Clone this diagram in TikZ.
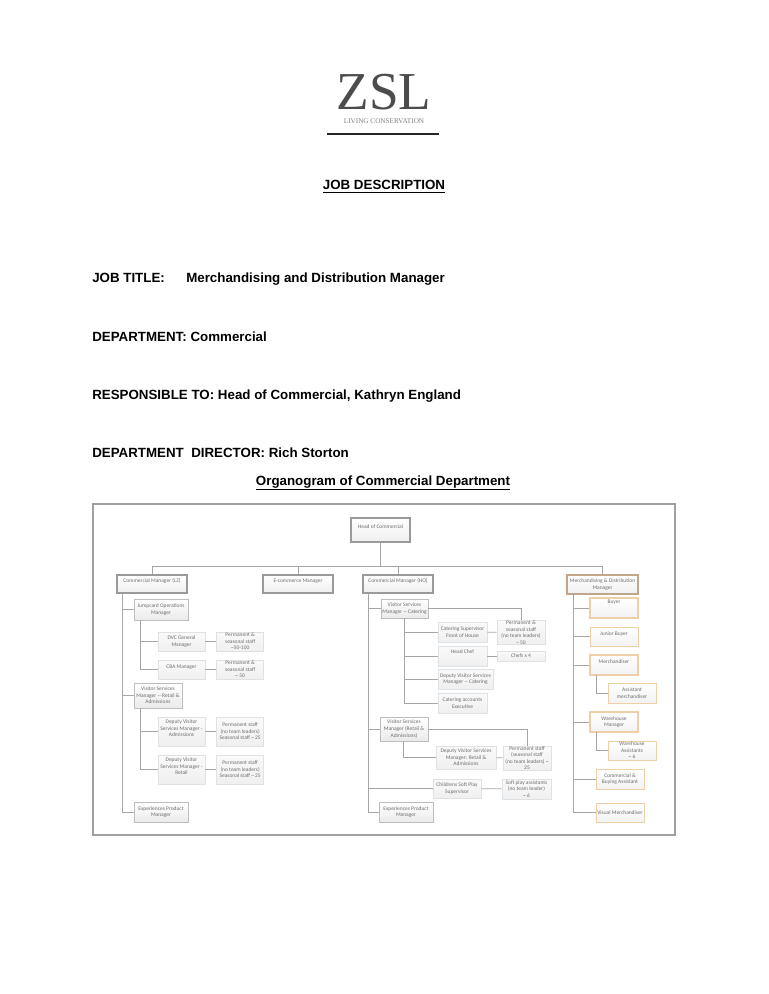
\documentclass[tikz,border=0pt]{standalone}
\usepackage{fontspec}
\setmainfont{Liberation Sans}
\newfontfamily\serifzsl{Liberation Serif}
\newfontfamily\boxfont{Carlito}
\usetikzlibrary{positioning}
\definecolor{inkgrey}{HTML}{6E6E6E}
\definecolor{linegrey}{HTML}{A6A6A6}
\definecolor{frameedge}{HTML}{A0A0A0}
\definecolor{leadedge}{HTML}{9A9A9A}
\definecolor{midedge}{HTML}{BDBDBD}
\definecolor{paleedge}{HTML}{DCE2E6}
\definecolor{merchedge}{HTML}{C2A68C}
\definecolor{orangeedge}{HTML}{EFCFA8}
\tikzset{
    boxsize/.style 2 args={minimum width=#1*0.75pt, minimum height=#2*0.75pt},
    orgbox/.style={inner sep=0pt, align=center, text=inkgrey,
        font=\boxfont\fontsize{4.1}{4.9}\selectfont, anchor=center},
    leadbox/.style={orgbox, draw=leadedge, line width=1.2pt, top color=white, bottom color=black!6},
    midbox/.style={orgbox, draw=midedge, line width=0.7pt, top color=white, bottom color=black!8},
    palebox/.style={orgbox, draw=paleedge, line width=0.5pt, top color=black!2, bottom color=black!6},
    merchbox/.style={orgbox, draw=merchedge, line width=1.1pt, top color=white, bottom color=black!6},
    orangebox/.style={orgbox, draw=orangeedge, line width=0.7pt, top color=white, bottom color=black!5},
    link/.style={draw=linegrey, line width=0.6pt},
    headline/.style={anchor=base west, inner sep=0pt, font=\bfseries\fontsize{10}{12}\selectfont}
}

\begin{document}
\begin{tikzpicture}[x=0.75pt, y=-0.75pt]
    \useasboundingbox (0,0) rectangle (768,994);
    \fill[white] (0,0) rectangle (768,994);

    % Logo
    \node[inner sep=0pt, text=black!70, font=\serifzsl\fontsize{40}{40}\selectfont] (LogoZSL) at (384,92) {ZSL};
    \node[inner sep=0pt, text=black!50, font=\serifzsl\fontsize{5.4}{6}\selectfont] (LogoLine) at (384,121) {LIVING  CONSERVATION};
    \draw[black!85, line width=1.5pt] (327,134) -- (439,134);

    % Page headings
    \node[anchor=base, inner sep=0pt, font=\bfseries\fontsize{10}{12}\selectfont] (JobDesc) at (384,190) {\underline{JOB DESCRIPTION}};
    \node[headline] (JobTitle) at (92,283) {JOB TITLE:};
    \node[headline] (JobName) at (186,283) {Merchandising and Distribution Manager};
    \node[headline] (Department) at (92,342) {DEPARTMENT: Commercial};
    \node[headline] (Responsible) at (92,399) {RESPONSIBLE TO: Head of Commercial, Kathryn England};
    \node[headline] (Director) at (92,457) {DEPARTMENT\ \ DIRECTOR: Rich Storton};
    \node[anchor=base, inner sep=0pt, font=\bfseries\fontsize{10}{12}\selectfont] (OrgTitle) at (383,485) {\underline{Organogram of Commercial Department}};

    % Frame
    \node[draw=frameedge, line width=1pt, boxsize={582}{331}, fill=white] (Frame) at (384,669.5) {};

    % Top row
    \node[leadbox, line width=1.6pt, boxsize={59}{24}] (Head) at (380.5,530) {Head of Commercial\\~};
    \node[leadbox, boxsize={70}{18}] (CommLZ) at (152,584) {Commercial Manager (LZ)\\~};
    \node[leadbox, boxsize={70}{18}] (Ecomm) at (298,584) {E-commerce Manager\\~};
    \node[leadbox, boxsize={70}{18}] (CommHO) at (398,584) {Commercial Manager (HO)\\~};
    \node[merchbox, boxsize={71}{19}] (Merch) at (602.5,584.5) {Merchandising \& Distribution\\Manager};

    % Left column
    \node[midbox, boxsize={54}{21}] (JumpOps) at (161,609.5) {Jumpcard Operations\\Manager};
    \node[palebox, boxsize={47}{19}] (DvcGM) at (181.5,641.5) {DVC General\\Manager};
    \node[palebox, boxsize={47}{19}, right=8.25pt of DvcGM] (DvcStaff) {Permanent \&\\seasonal staff\\\textasciitilde50-100};
    \node[palebox, boxsize={47}{19}] (CbaGM) at (181.5,669.5) {CBA Manager\\~};
    \node[palebox, boxsize={47}{19}, right=8.25pt of CbaGM] (CbaStaff) {Permanent \&\\seasonal staff\\\textasciitilde\ 50};
    \node[midbox, boxsize={48}{25}] (VsmLZ) at (158,695.5) {Visitor Services\\Manager -- Retail \&\\Admissions};
    \node[palebox, boxsize={47}{29}] (DepAdm) at (181.5,731.5) {Deputy Visitor\\Services Manager -\\Admissions\\~};
    \node[palebox, boxsize={47}{29}, right=8.25pt of DepAdm] (AdmStaff) {Permanent staff\\(no team leaders)\\Seasonal staff \textasciitilde\ 25};
    \node[palebox, boxsize={47}{29}] (DepRet) at (181.5,769.5) {Deputy Visitor\\Services Manager -\\Retail\\~};
    \node[palebox, boxsize={47}{29}, right=8.25pt of DepRet] (RetStaff) {Permanent staff\\(no team leaders)\\Seasonal staff \textasciitilde\ 25};
    \node[midbox, boxsize={54}{20}] (ExpLZ) at (161,812) {Experiences Product\\Manager};

    % Middle column
    \node[midbox, boxsize={47}{19}] (VsmCat) at (404.5,608.5) {Visitor Services\\Manager -- Catering};
    \node[palebox, boxsize={49}{20}] (CatSup) at (462.5,632) {Catering Supervisor\\Front of House};
    \node[palebox, boxsize={48}{21}] (CatStaff) at (521,632.5) {Permanent \&\\seasonal staff\\(no team leaders)\\\textasciitilde\ 50};
    \node[palebox, boxsize={49}{20}] (HeadChef) at (462.5,656) {Head Chef\\[2pt]~};
    \node[palebox, boxsize={48}{10}] (Chefs) at (521,656) {Chefs x 4};
    \node[palebox, boxsize={55}{20}] (DepCat) at (465.5,679) {Deputy Visitor Services\\Manager -- Catering};
    \node[palebox, boxsize={49}{20}] (CatAcc) at (462.5,703) {Catering accounts\\Executive};
    \node[midbox, boxsize={48}{24}] (VsmHO) at (404,729) {Visitor Services\\Manager (Retail \&\\Admissions)};
    \node[palebox, boxsize={60}{23}] (DepHO) at (466,757.5) {Deputy Visitor Services\\Manager: Retail \&\\Admissions};
    \node[palebox, boxsize={48}{24}] (HOStaff) at (527,758) {Permanent staff\\(seasonal staff\\(no team leaders) \textasciitilde\\25};
    \node[palebox, boxsize={48}{19}] (Soft) at (457,788.5) {Childrens Soft Play\\Supervisor};
    \node[palebox, boxsize={49}{20}] (SoftStaff) at (526.5,789) {Soft play assistants\\(no team leader)\\\textasciitilde\ 6};
    \node[midbox, boxsize={54}{20}] (ExpHO) at (406,812) {Experiences Product\\Manager};

    % Merchandising column
    \node[orangebox, line width=1pt, boxsize={48}{20}] (Buyer) at (614,608) {Buyer\\~\\~};
    \node[orangebox, boxsize={48}{19}] (Junior) at (614,636.5) {Junior Buyer\\~};
    \node[orangebox, line width=1pt, boxsize={48}{20}] (Merchandiser) at (614,665) {Merchandiser\\~};
    \node[orangebox, boxsize={48}{20}] (AsstMerch) at (632,693) {Assistant\\merchandiser};
    \node[orangebox, line width=1pt, boxsize={48}{20}] (Warehouse) at (614,722) {Warehouse\\Manager};
    \node[orangebox, boxsize={48}{19}] (AsstWare) at (632,750.5) {Warehouse\\Assistants\\\textasciitilde\ 6};
    \node[orangebox, boxsize={48}{20}] (Buying) at (620,779) {Commercial \&\\Buying Assistant};
    \node[orangebox, boxsize={48}{19}] (Visual) at (620,812.5) {Visual Merchandiser};

    % Trunks
    \coordinate (Bus) at (380.5,566);
    \coordinate (TrunkLZ) at (122,593);
    \coordinate (TrunkJump) at (140,620);
    \coordinate (TrunkVsm) at (140,708);
    \coordinate (TrunkHO) at (368,593);
    \coordinate (TrunkCat) at (404,618);
    \coordinate (TrunkRet) at (403,741);
    \coordinate (TrunkMerch) at (573,594);
    \coordinate (TrunkAsst) at (596,675);
    \coordinate (TrunkWare) at (596,732);
    \coordinate (SoftJoin) at (368,788.5);

    % Bus from the head
    \draw[link, line width=1pt] (Head) -- (Bus);
    \draw[link] (CommLZ.north) |- (Bus);
    \draw[link] (Merch.north) |- (Bus);
    \draw[link] (Ecomm.north) -- (Ecomm.north |- Bus);
    \draw[link] (CommHO.north) -- (CommHO.north |- Bus);

    % Left connectors
    \draw[link] (TrunkLZ) |- (JumpOps);
    \draw[link] (TrunkLZ) |- (VsmLZ);
    \draw[link] (TrunkLZ) |- (ExpLZ);
    \draw[link] (TrunkJump) |- (DvcGM);
    \draw[link] (TrunkJump) |- (CbaGM);
    \draw[link] (DvcGM) -- (DvcStaff);
    \draw[link] (CbaGM) -- (CbaStaff);
    \draw[link] (TrunkVsm) |- (DepAdm);
    \draw[link] (TrunkVsm) |- (DepRet);
    \draw[link] (DepAdm) -- (AdmStaff);
    \draw[link] (DepRet) -- (RetStaff);

    % Middle connectors
    \draw[link] (TrunkHO) |- (VsmCat);
    \draw[link] (TrunkHO) |- (VsmHO);
    \draw[link] (TrunkHO) |- (ExpHO);
    \draw[link] (TrunkHO) |- (Soft);
    \draw[link] (VsmCat) -| (CatStaff);
    \draw[link] (TrunkCat) |- (CatSup);
    \draw[link] (TrunkCat) |- (HeadChef);
    \draw[link] (TrunkCat) |- (DepCat);
    \draw[link] (TrunkCat) |- (CatAcc);
    \draw[link] (CatSup) -- (CatStaff);
    \draw[link] (HeadChef) -- (Chefs);
    \draw[link] (VsmHO) -| (HOStaff);
    \draw[link] (TrunkRet) |- (DepHO);
    \draw[link] (DepHO) -- (HOStaff);
    \draw[link] (Soft) -- (SoftStaff);

    % Merchandising connectors
    \draw[link] (TrunkMerch) |- (Buyer);
    \draw[link] (TrunkMerch) |- (Junior);
    \draw[link] (TrunkMerch) |- (Merchandiser);
    \draw[link] (TrunkMerch) |- (Warehouse);
    \draw[link] (TrunkMerch) |- (Buying);
    \draw[link] (TrunkMerch) |- (Visual);
    \draw[link] (TrunkAsst) |- (AsstMerch);
    \draw[link] (TrunkWare) |- (AsstWare);

\end{tikzpicture}
\end{document}
